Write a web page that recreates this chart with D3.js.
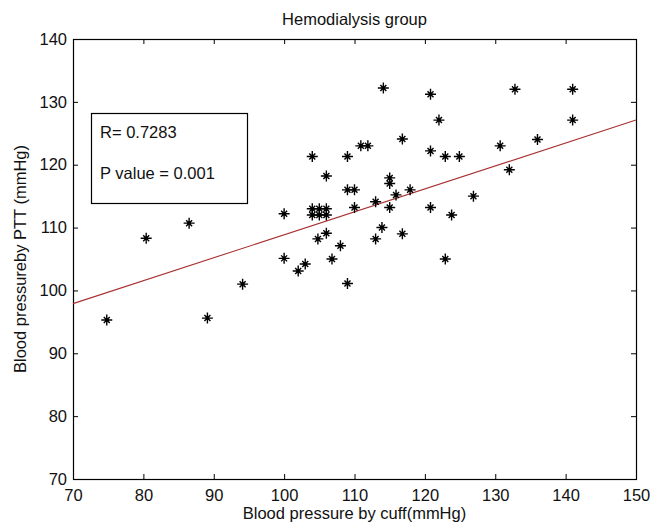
<!DOCTYPE html>
<html>
<head>
<meta charset="utf-8">
<script src="https://cdn.jsdelivr.net/npm/d3@7"></script>
<style>
  body { margin: 0; background: #fff; }
  svg text { font-family: Arial, "Liberation Sans", sans-serif; fill: #111; }
</style>
</head>
<body>
<svg id="chart" width="651" height="525"></svg>
<script>
// cuff pressure (x) vs PTT pressure (y)
const cuff = [74.8, 80.4, 86.5, 89.1, 94.1, 100, 100, 102, 103, 104, 105, 106, 104, 105, 106,
  104, 104.8, 106, 106, 106.8, 108, 109, 109, 110, 109, 110, 110.9, 111.9, 113, 113, 113.9,
  114.1, 115, 115, 115, 115.9, 116.8, 116.8, 117.9, 120.8, 120.8, 120.8, 122, 122.9, 122.9,
  123.8, 124.9, 126.9, 130.7, 132, 132.8, 136, 141, 141];
const ptt = [95.3, 108.3, 110.7, 95.6, 101, 112.2, 105.1, 103.1, 104.2, 113, 113, 113, 112, 112, 112,
  121.3, 108.2, 118.2, 109.1, 105, 107.1, 121.3, 116, 116, 101.1, 113.2, 123, 123, 114.1, 108.2, 110,
  132.2, 117.9, 117, 113.2, 115.2, 124.1, 109, 116, 131.2, 122.2, 113.2, 127.1, 121.3, 105,
  112, 121.3, 115, 123, 119.2, 132, 124, 132, 127.1];

// regression line end points
const fitX = [70, 150];
const fitY = [97.9, 127.1];

const xTicks = [70, 80, 90, 100, 110, 120, 130, 140, 150];
const yTicks = [70, 80, 90, 100, 110, 120, 130, 140];

const statLines = ['R= 0.7283', 'P value = 0.001'];

const plotL = 73, plotT = 39, plotR = 636, plotB = 479;
const fontSize = '16.5px';

const svg = d3.select('#chart');

const x = d3.scaleLinear().domain([70, 150]).range([plotL, plotR]);
const y = d3.scaleLinear().domain([70, 140]).range([plotB, plotT]);

// axes (ticks point inward, like matlab)
const gx = svg.append('g')
  .attr('transform', `translate(0, ${plotB})`)
  .call(d3.axisBottom(x).tickValues(xTicks).tickSize(-5).tickPadding(10));
const gy = svg.append('g')
  .attr('transform', `translate(${plotL}, 0)`)
  .call(d3.axisLeft(y).tickValues(yTicks).tickSize(-5).tickPadding(6));
const gt = svg.append('g')
  .attr('transform', `translate(0, ${plotT})`)
  .call(d3.axisTop(x).tickValues(xTicks).tickSize(-5).tickFormat(''));
const gr = svg.append('g')
  .attr('transform', `translate(${plotR}, 0)`)
  .call(d3.axisRight(y).tickValues(yTicks).tickSize(-5).tickFormat(''));

[gx, gy, gt, gr].forEach(g => {
  g.select('.domain').remove();
  g.selectAll('.tick line').attr('stroke', '#000');
  g.selectAll('text').style('font-size', fontSize).attr('fill', '#111');
});

svg.append('rect')
  .attr('x', plotL + 0.5)
  .attr('y', plotT + 0.5)
  .attr('width', plotR - plotL)
  .attr('height', plotB - plotT)
  .attr('fill', 'none')
  .attr('stroke', '#000')
  .attr('stroke-width', 1.2);

// fitted line
svg.append('line')
  .attr('x1', x(fitX[0])).attr('y1', y(fitY[0]))
  .attr('x2', x(fitX[1])).attr('y2', y(fitY[1]))
  .attr('stroke', '#a83232')
  .attr('stroke-width', 1.1);

// star markers
const star = 'M0,-5.5V5.5M-5.5,0H5.5M-3,-3L3,3M-3,3L3,-3';
const pts = svg.append('g')
  .selectAll('g')
  .data(cuff.map((c, i) => [c, ptt[i]]))
  .enter()
  .append('g')
  .attr('transform', d => `translate(${x(d[0])}, ${y(d[1])})`);
pts.append('path')
  .attr('d', star)
  .attr('stroke', '#000')
  .attr('stroke-width', 1.4)
  .attr('fill', 'none');
pts.append('circle')
  .attr('r', 1.8)
  .attr('fill', '#000');

// stats box
svg.append('rect')
  .attr('x', 91.5).attr('y', 113.5)
  .attr('width', 156).attr('height', 90)
  .attr('fill', '#fff')
  .attr('stroke', '#000')
  .attr('stroke-width', 1.2);

svg.selectAll('.stat')
  .data(statLines)
  .enter()
  .append('text')
  .attr('class', 'stat')
  .attr('x', 100)
  .attr('y', (d, i) => 138 + i * 41)
  .style('font-size', fontSize)
  .text(d => d);

// titles
svg.append('text')
  .attr('x', (plotL + plotR) / 2)
  .attr('y', 25)
  .attr('text-anchor', 'middle')
  .style('font-size', fontSize)
  .text('Hemodialysis group');

svg.append('text')
  .attr('x', (plotL + plotR) / 2)
  .attr('y', 519)
  .attr('text-anchor', 'middle')
  .style('font-size', fontSize)
  .text('Blood pressure by cuff(mmHg)');

svg.append('text')
  .attr('transform', `translate(26, ${(plotT + plotB) / 2}) rotate(-90)`)
  .attr('text-anchor', 'middle')
  .style('font-size', fontSize)
  .text('Blood pressureby PTT (mmHg)');
</script>
</body>
</html>
